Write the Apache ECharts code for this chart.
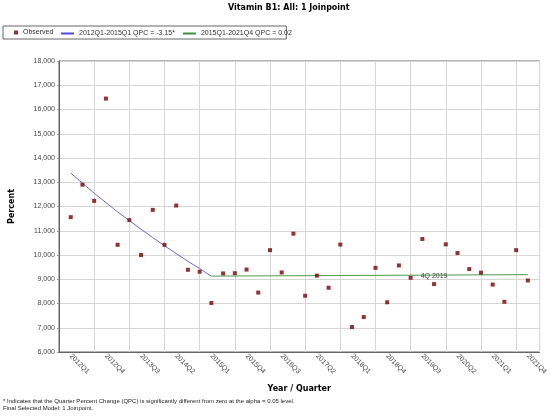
<!DOCTYPE html>
<html>
<head>
<meta charset="utf-8">
<script src="https://cdn.jsdelivr.net/npm/echarts@6/dist/echarts.min.js"></script>
<style>
  html, body { margin: 0; padding: 0; background: #fff; }
  #chart { width: 550px; height: 417px; }
</style>
</head>
<body>
<div id="chart"></div>
<script>
// quarters 2012Q1 .. 2021Q4 are x = 0 .. 39
const tickLabels = ['2012Q1', '2012Q4', '2013Q3', '2014Q2', '2015Q1', '2015Q4', '2016Q3',
    '2017Q2', '2018Q1', '2018Q4', '2019Q3', '2020Q2', '2021Q1', '2021Q4'];

const observed = [11560, 12900, 12230, 16450, 10420, 11440, 10000, 11860, 10420, 12040,
    9390, 9310, 8020, 9240, 9250, 9400, 8450, 10200, 9280, 10880,
    8320, 9150, 8650, 10430, 7030, 7440, 9470, 8050, 9570, 9060,
    10660, 8800, 10440, 10080, 9420, 9270, 8780, 8070, 10200, 8950];

// 2012Q1-2015Q1 fitted segment (x = 0 .. 12)
const trend1 = [13380, 12960, 12550, 12160, 11780, 11420, 11060, 10720, 10380, 10060, 9740, 9440, 9130];
// 2015Q1-2021Q4 fitted segment, end points
const trend2X = [12, 39];
const trend2 = [9130, 9190];

const joinLabel = {x: 31, y: 9170, text: '4Q 2019'};

const chart = echarts.init(document.getElementById('chart'));

const sans = '"Liberation Sans", Arial, sans-serif';
const boldFont = '"DejaVu Sans", Verdana, sans-serif';

const option = {
    animation: false,
    title: [{
        text: 'Vitamin B1: All: 1 Joinpoint',
        left: 228,
        top: 4,
        padding: 0,
        textStyle: {fontFamily: boldFont, fontSize: 8, fontWeight: 'bold', color: '#000'}
    }, {
        text: '* Indicates that the Quarter Percent Change (QPC) is significantly different from zero at the alpha = 0.05 level.\nFinal Selected Model: 1 Joinpoint.',
        left: 3,
        top: 398,
        padding: 0,
        textStyle: {fontFamily: sans, fontSize: 6, fontWeight: 'normal', color: '#222', lineHeight: 7}
    }],
    legend: [{
        data: [{name: 'Observed', icon: 'rect'}],
        left: 3,
        top: 26,
        padding: [3, 233, 3, 11],
        borderColor: '#666',
        borderWidth: 1,
        itemWidth: 4,
        itemHeight: 4,
        selectedMode: false,
        textStyle: {fontFamily: sans, fontSize: 7, color: '#333'}
    }, {
        data: [
            {name: '2012Q1-2015Q1 QPC = -3.15*', icon: 'rect'},
            {name: '2015Q1-2021Q4 QPC = 0.02', icon: 'rect'}
        ],
        left: 61,
        top: 27,
        padding: [3, 0, 3, 0],
        itemWidth: 13,
        itemHeight: 2,
        itemGap: 8,
        selectedMode: false,
        textStyle: {fontFamily: sans, fontSize: 7, color: '#333'}
    }],
    grid: {
        left: 57, right: 9, top: 61, bottom: 65,
        show: true, borderColor: '#666', borderWidth: 1
    },
    xAxis: [{
        type: 'value',
        min: -1, max: 40, interval: 1,
        name: 'Year / Quarter',
        nameLocation: 'middle',
        nameGap: 33,
        nameTextStyle: {fontFamily: boldFont, fontSize: 8, fontWeight: 'bold', color: '#000'},
        axisLine: {onZero: false, lineStyle: {color: '#666'}},
        axisTick: {show: false},
        splitLine: {show: false},
        axisLabel: {
            rotate: -45,
            margin: 3,
            fontFamily: sans, fontSize: 7, color: '#444',
            formatter: function (v) {
                return (v >= 0 && v % 3 === 0) ? tickLabels[v / 3] : '';
            }
        }
    }, {
        type: 'value',
        min: -1, max: 40, interval: 3,
        position: 'bottom',
        axisLine: {show: false},
        axisTick: {show: false},
        axisLabel: {show: false},
        splitLine: {show: true, lineStyle: {color: '#d6d6d6', width: 1}}
    }],
    yAxis: {
        type: 'value',
        min: 6000, max: 18000, interval: 1000,
        name: 'Percent',
        nameLocation: 'middle',
        nameGap: 43,
        nameTextStyle: {fontFamily: boldFont, fontSize: 8, fontWeight: 'bold', color: '#000'},
        axisLine: {show: true, onZero: false, lineStyle: {color: '#666'}},
        axisTick: {show: true, length: 2, lineStyle: {color: '#999'}},
        axisLabel: {margin: 4, fontFamily: sans, fontSize: 7, color: '#444'},
        splitLine: {show: true, lineStyle: {color: '#d6d6d6', width: 1}}
    },
    series: [{
        name: 'Observed',
        type: 'scatter',
        symbol: 'rect',
        symbolSize: 4,
        itemStyle: {color: '#780000'},
        data: observed.map((v, i) => [i, v]),
        z: 5
    }, {
        name: '2012Q1-2015Q1 QPC = -3.15*',
        type: 'line',
        showSymbol: false,
        symbol: 'none',
        color: '#4b4bdc',
        lineStyle: {width: 1, color: '#6a6ad8'},
        data: trend1.map((v, i) => [i, v])
    }, {
        name: '2015Q1-2021Q4 QPC = 0.02',
        type: 'line',
        showSymbol: false,
        symbol: 'none',
        color: '#3a8f3a',
        lineStyle: {width: 1, color: '#4f9a4f'},
        data: trend2.map((v, i) => [trend2X[i], v]),
        markPoint: {
            symbol: 'rect',
            symbolSize: 0,
            silent: true,
            label: {
                show: true,
                position: 'inside',
                offset: [0, 1],
                formatter: joinLabel.text,
                fontFamily: sans, fontSize: 7, color: '#444'
            },
            data: [{coord: [joinLabel.x, joinLabel.y]}]
        }
    }]
};

chart.setOption(option);
</script>
</body>
</html>
